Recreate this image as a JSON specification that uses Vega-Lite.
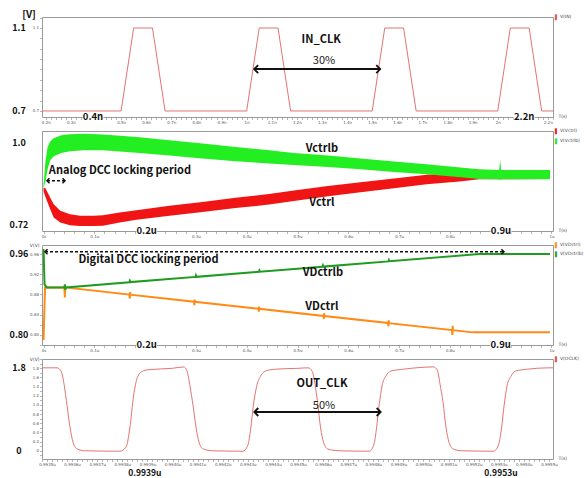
{
"$schema":"https://vega.github.io/schema/vega-lite/v6.json",
"background":"white",
"padding":{"left":9,"top":9,"right":0,"bottom":0},
"spacing":14,
"bounds":"flush",
"datasets":{
"in":[{"t":0.185,"v":0.7},{"t":0.5,"v":0.7},{"t":0.55,"v":1.1},{"t":0.625,"v":1.1},{"t":0.675,"v":0.7},{"t":1.0,"v":0.7},{"t":1.05,"v":1.1},{"t":1.125,"v":1.1},{"t":1.175,"v":0.7},{"t":1.5,"v":0.7},{"t":1.55,"v":1.1},{"t":1.625,"v":1.1},{"t":1.675,"v":0.7},{"t":2.0,"v":0.7},{"t":2.05,"v":1.1},{"t":2.125,"v":1.1},{"t":2.175,"v":0.7},{"t":2.22,"v":0.7}],
"arrow1":[{"t":1.030,"v":0.902,"end":"start"},{"t":1.532,"v":0.902,"end":"end"}],
"notes1":[
{"t":1.297,"v":1.042,"label":"IN_CLK","kind":"title"},
{"t":1.308,"v":0.941,"label":"30%","kind":"pct"},
{"t":0.185,"v":1.1,"label":"1.1","kind":"ylab"},
{"t":0.185,"v":0.7,"label":"0.7","kind":"ylab"},
{"t":0.185,"v":1.153,"label":"[V]","kind":"unit"},
{"t":0.388,"v":0.671,"label":"0.4n","kind":"xlab"},
{"t":2.105,"v":0.671,"label":"2.2n","kind":"xlab"},
{"t":2.22,"v":1.153,"label":"V(IN)","kind":"leg","s":"IN"}],
"vctrl":[
{"t":0.000,"lo":0.835,"hi":0.848},{"t":0.004,"lo":0.815,"hi":0.845},{"t":0.013,"lo":0.775,"hi":0.814},{"t":0.020,"lo":0.746,"hi":0.791},{"t":0.033,"lo":0.729,"hi":0.769},{"t":0.052,"lo":0.720,"hi":0.757},{"t":0.072,"lo":0.717,"hi":0.752},{"t":0.098,"lo":0.717,"hi":0.752},{"t":0.117,"lo":0.718,"hi":0.754},{"t":0.150,"lo":0.729,"hi":0.763},{"t":0.183,"lo":0.738,"hi":0.771},{"t":0.248,"lo":0.752,"hi":0.786},{"t":0.313,"lo":0.765,"hi":0.799},{"t":0.378,"lo":0.778,"hi":0.813},{"t":0.444,"lo":0.790,"hi":0.826},{"t":0.493,"lo":0.802,"hi":0.838},{"t":0.560,"lo":0.818,"hi":0.853},{"t":0.624,"lo":0.832,"hi":0.866},{"t":0.690,"lo":0.846,"hi":0.879},{"t":0.754,"lo":0.859,"hi":0.892},{"t":0.819,"lo":0.869,"hi":0.900},{"t":0.858,"lo":0.876,"hi":0.905},{"t":0.997,"lo":0.877,"hi":0.905}],
"vctrlb":[
{"t":0.000,"lo":0.845,"hi":0.858},{"t":0.004,"lo":0.870,"hi":0.940},{"t":0.008,"lo":0.910,"hi":0.985},{"t":0.013,"lo":0.940,"hi":1.005},{"t":0.020,"lo":0.955,"hi":1.016},{"t":0.035,"lo":0.966,"hi":1.026},{"t":0.052,"lo":0.972,"hi":1.030},{"t":0.080,"lo":0.975,"hi":1.031},{"t":0.117,"lo":0.975,"hi":1.029},{"t":0.183,"lo":0.967,"hi":1.020},{"t":0.248,"lo":0.957,"hi":1.009},{"t":0.313,"lo":0.947,"hi":0.998},{"t":0.378,"lo":0.938,"hi":0.986},{"t":0.444,"lo":0.930,"hi":0.975},{"t":0.493,"lo":0.925,"hi":0.966},{"t":0.560,"lo":0.918,"hi":0.957},{"t":0.624,"lo":0.910,"hi":0.947},{"t":0.690,"lo":0.901,"hi":0.937},{"t":0.754,"lo":0.893,"hi":0.927},{"t":0.810,"lo":0.885,"hi":0.918},{"t":0.858,"lo":0.877,"hi":0.910},{"t":0.897,"lo":0.876,"hi":0.908},{"t":0.899,"lo":0.872,"hi":0.942},{"t":0.901,"lo":0.876,"hi":0.908},{"t":0.997,"lo":0.876,"hi":0.908}],
"arrow2":[{"t":0.0068,"v":0.8712,"end":"start"},{"t":0.0423,"v":0.8712,"end":"end"}],
"notes2":[
{"t":0.1505,"v":0.903,"label":"Analog DCC locking period","kind":"title"},
{"t":0.548,"v":0.980,"label":"Vctrlb","kind":"title"},
{"t":0.548,"v":0.797,"label":"Vctrl","kind":"title"},
{"t":-0.003,"v":1.0,"label":"1.0","kind":"ylab"},
{"t":-0.003,"v":0.72,"label":"0.72","kind":"ylab"},
{"t":0.203,"v":0.700,"label":"0.2u","kind":"xlab"},
{"t":0.9006,"v":0.700,"label":"0.9u","kind":"xlab"},
{"t":1.003,"v":1.0407,"label":"V(Vctrl)","kind":"leg","s":"Vctrl"},
{"t":1.003,"v":1.0068,"label":"V(Vctrlb)","kind":"leg","s":"Vctrlb"}],
"vdctrl":[
{"t":0,"v":0.790},{"t":0.003,"v":0.894},{"t":0.041,"v":0.894},{"t":0.042,"v":0.874},{"t":0.0425,"v":0.897},{"t":0.043,"v":0.894},
{"t":0.169,"v":0.8799},{"t":0.170,"v":0.872},{"t":0.1705,"v":0.885},{"t":0.171,"v":0.8797},
{"t":0.296,"v":0.8658},{"t":0.297,"v":0.859},{"t":0.2975,"v":0.870},{"t":0.298,"v":0.8656},
{"t":0.423,"v":0.8518},{"t":0.424,"v":0.846},{"t":0.4245,"v":0.856},{"t":0.425,"v":0.8516},
{"t":0.551,"v":0.8376},{"t":0.552,"v":0.832},{"t":0.5525,"v":0.843},{"t":0.553,"v":0.8374},
{"t":0.678,"v":0.8235},{"t":0.679,"v":0.817},{"t":0.6795,"v":0.829},{"t":0.680,"v":0.8233},
{"t":0.804,"v":0.8096},{"t":0.805,"v":0.800},{"t":0.8055,"v":0.818},{"t":0.806,"v":0.8094},
{"t":0.845,"v":0.805},{"t":0.997,"v":0.805}],
"vdctrlb":[
{"t":0,"v":0.970},{"t":0.002,"v":0.900},{"t":0.004,"v":0.897},{"t":0.006,"v":0.894},{"t":0.041,"v":0.894},{"t":0.042,"v":0.900},{"t":0.043,"v":0.889},{"t":0.044,"v":0.894},
{"t":0.169,"v":0.9043},{"t":0.170,"v":0.9070},{"t":0.171,"v":0.9045},
{"t":0.299,"v":0.9148},{"t":0.300,"v":0.9178},{"t":0.301,"v":0.9150},
{"t":0.424,"v":0.9249},{"t":0.425,"v":0.9275},{"t":0.426,"v":0.9251},
{"t":0.549,"v":0.9350},{"t":0.550,"v":0.9378},{"t":0.551,"v":0.9352},
{"t":0.679,"v":0.9455},{"t":0.680,"v":0.9483},{"t":0.681,"v":0.9457},
{"t":0.858,"v":0.960},{"t":0.997,"v":0.960}],
"arrow3":[{"t":0.0029,"v":0.9647,"end":"start"},{"t":0.9064,"v":0.9647,"end":"end"}],
"notes3":[
{"t":0.2066,"v":0.9489,"label":"Digital DCC locking period","kind":"title"},
{"t":0.550,"v":0.9226,"label":"VDctrlb","kind":"title"},
{"t":0.548,"v":0.8552,"label":"VDctrl","kind":"title"},
{"t":-0.003,"v":0.96,"label":"0.96","kind":"ylab"},
{"t":-0.003,"v":0.80,"label":"0.80","kind":"ylab"},
{"t":0.203,"v":0.78,"label":"0.2u","kind":"xlab"},
{"t":0.900,"v":0.78,"label":"0.9u","kind":"xlab"},
{"t":1.003,"v":0.978,"label":"V(VDctrl)","kind":"leg","s":"VDctrl"},
{"t":1.003,"v":0.960,"label":"V(VDctrlb)","kind":"leg","s":"VDctrlb"}],
"out":[
{"t":993.480,"v":1.81},{"t":993.540,"v":1.81},{"t":993.556,"v":1.74},{"t":993.568,"v":1.45},{"t":993.580,"v":0.98},{"t":993.592,"v":0.50},{"t":993.604,"v":0.18},{"t":993.620,"v":0.04},{"t":993.650,"v":0.00},{"t":993.790,"v":-0.01},
{"t":993.815,"v":0.08},{"t":993.830,"v":0.50},{"t":993.845,"v":1.20},{"t":993.860,"v":1.60},{"t":993.878,"v":1.73},{"t":993.905,"v":1.77},{"t":994.000,"v":1.80},{"t":994.045,"v":1.83},
{"t":994.058,"v":1.74},{"t":994.070,"v":1.40},{"t":994.082,"v":0.98},{"t":994.094,"v":0.50},{"t":994.106,"v":0.18},{"t":994.122,"v":0.04},{"t":994.160,"v":0.00},{"t":994.280,"v":-0.01},
{"t":994.300,"v":0.12},{"t":994.312,"v":0.50},{"t":994.322,"v":0.98},{"t":994.335,"v":1.40},{"t":994.350,"v":1.62},{"t":994.370,"v":1.74},{"t":994.410,"v":1.78},{"t":994.500,"v":1.80},{"t":994.540,"v":1.81},
{"t":994.556,"v":1.74},{"t":994.568,"v":1.45},{"t":994.578,"v":1.05},{"t":994.590,"v":0.50},{"t":994.602,"v":0.18},{"t":994.618,"v":0.04},{"t":994.660,"v":0.00},{"t":994.785,"v":-0.01},
{"t":994.803,"v":0.15},{"t":994.813,"v":0.50},{"t":994.823,"v":0.98},{"t":994.835,"v":1.42},{"t":994.850,"v":1.63},{"t":994.870,"v":1.74},{"t":994.920,"v":1.78},{"t":995.040,"v":1.83},
{"t":995.055,"v":1.76},{"t":995.066,"v":1.45},{"t":995.078,"v":1.05},{"t":995.090,"v":0.50},{"t":995.102,"v":0.18},{"t":995.118,"v":0.04},{"t":995.150,"v":0.00},{"t":995.280,"v":-0.01},
{"t":995.300,"v":0.15},{"t":995.311,"v":0.50},{"t":995.321,"v":0.98},{"t":995.333,"v":1.42},{"t":995.348,"v":1.62},{"t":995.367,"v":1.74},{"t":995.413,"v":1.78},{"t":995.500,"v":1.81},{"t":995.516,"v":1.81}],
"arrow4":[{"t":994.3258,"v":0.846,"end":"start"},{"t":994.8294,"v":0.846,"end":"end"}],
"notes4":[
{"t":994.5955,"v":1.451,"label":"OUT_CLK","kind":"title"},
{"t":994.6035,"v":0.977,"label":"50%","kind":"pct"},
{"t":993.48,"v":1.8,"label":"1.8","kind":"ylab"},
{"t":993.48,"v":0,"label":"0","kind":"ylab"},
{"t":993.890,"v":-0.18,"label":"0.9939u","kind":"xlab2"},
{"t":995.3087,"v":-0.18,"label":"0.9953u","kind":"xlab2"},
{"t":995.516,"v":2.003,"label":"V(OCLK)","kind":"leg","s":"OCLK"}]
},
"vconcat":[
{
"width":511,"height":100,
"encoding":{
"x":{"field":"t","type":"quantitative","scale":{"domain":[0.185,2.22],"nice":false,"zero":false},"axis":{"title":"T(s)","tickCount":100,"labelExpr":"(abs(datum.value*10-round(datum.value*10))<0.001 && abs(datum.value-0.4)>0.001 && abs(datum.value-2.1)>0.001) ? format(datum.value,'.1~f')+'n' : ''"}},
"y":{"field":"v","type":"quantitative","scale":{"domain":[0.671,1.153],"nice":false,"zero":false},"axis":{"title":null,"tickCount":10,"labelExpr":"(abs(datum.value-0.7)<0.001 || abs(datum.value-1.1)<0.001) ? format(datum.value,'.1f') : ''"}}
},
"layer":[
{"data":{"name":"in"},"mark":{"type":"line","color":"#e57373","strokeWidth":1}},
{"data":{"name":"arrow1"},"mark":{"type":"line","color":"#111111","strokeWidth":2}},
{"data":{"name":"arrow1"},"mark":{"type":"point","filled":false,"color":"#111111","strokeWidth":1.8,"size":64,"opacity":1},"encoding":{"shape":{"field":"end","type":"nominal","scale":{"domain":["start","end"],"range":["M1,-1L0,0L1,1","M-1,-1L0,0L-1,1"]},"legend":null}}},
{"data":{"name":"notes1"},"transform":[{"filter":"datum.kind==='title'"}],"mark":{"type":"text","fontWeight":"bold","fontSize":11,"color":"#111111","align":"center","baseline":"middle"},"encoding":{"text":{"field":"label"}}},
{"data":{"name":"notes1"},"transform":[{"filter":"datum.kind==='pct'"}],"mark":{"type":"text","fontSize":11,"color":"#222222","align":"center","baseline":"middle"},"encoding":{"text":{"field":"label"}}},
{"data":{"name":"notes1"},"transform":[{"filter":"datum.kind==='ylab'"}],"mark":{"type":"text","fontWeight":"bold","fontSize":9,"color":"#111111","align":"center","baseline":"middle","dx":-23},"encoding":{"text":{"field":"label"}}},
{"data":{"name":"notes1"},"transform":[{"filter":"datum.kind==='unit'"}],"mark":{"type":"text","fontWeight":"bold","fontSize":10,"color":"#111111","align":"center","baseline":"middle","dx":-13,"dy":-2},"encoding":{"text":{"field":"label"}}},
{"data":{"name":"notes1"},"transform":[{"filter":"datum.kind==='xlab'"}],"mark":{"type":"point","filled":true,"color":"white","opacity":1,"size":400,"shape":"M-1.05,-0.5H1.05V0.5H-1.05Z"}},
{"data":{"name":"notes1"},"transform":[{"filter":"datum.kind==='xlab'"}],"mark":{"type":"text","fontWeight":"bold","fontSize":9.5,"color":"#111111","align":"center","baseline":"middle"},"encoding":{"text":{"field":"label"}}},
{"data":{"name":"notes1"},"transform":[{"filter":"datum.kind==='leg'"}],"mark":{"type":"text","fontSize":5,"font":"DejaVu Sans","align":"left","baseline":"middle","dx":2},"encoding":{"text":{"value":"▌"},"color":{"field":"s","type":"nominal","scale":{"domain":["IN","Vctrl","Vctrlb","VDctrl","VDctrlb","OCLK"],"range":["#e05050","#ee1111","#22e022","#ff8c1a","#1f9e1f","#e05050"]},"legend":null}}},
{"data":{"name":"notes1"},"transform":[{"filter":"datum.kind==='leg'"}],"mark":{"type":"text","fontSize":4.5,"font":"DejaVu Sans","color":"#444444","align":"left","baseline":"middle","dx":7},"encoding":{"text":{"field":"label"}}}
]
},
{
"width":511,"height":100,
"encoding":{
"x":{"field":"t","type":"quantitative","scale":{"domain":[-0.003,1.003],"nice":false,"zero":false},"axis":{"title":"T(s)","tickCount":50,"labelExpr":"(abs(datum.value*10-round(datum.value*10))<0.001 && abs(datum.value-0.2)>0.001 && abs(datum.value-0.9)>0.001) ? (abs(datum.value)<0.001 ? '0s' : format(datum.value,'.1~f')+'u') : ''"}},
"y":{"field":"v","type":"quantitative","scale":{"domain":[0.7,1.0407],"nice":false,"zero":false},"axis":{"title":"V(V)","tickCount":17,"labelExpr":"round(datum.value*100)%4==0 ? (datum.value>0.999 ? '1.0' : format(datum.value,'.2f')) : ''"}}
},
"layer":[
{"data":{"name":"vctrl"},"mark":{"type":"area","color":"#f01414","opacity":1},"encoding":{"y":{"field":"lo","type":"quantitative","scale":{"domain":[0.7,1.0407],"nice":false,"zero":false},"axis":null},"y2":{"field":"hi"}}},
{"data":{"name":"vctrlb"},"mark":{"type":"area","color":"#22ee22","opacity":1},"encoding":{"y":{"field":"lo","type":"quantitative","scale":{"domain":[0.7,1.0407],"nice":false,"zero":false},"axis":null},"y2":{"field":"hi"}}},
{"data":{"name":"arrow2"},"mark":{"type":"line","color":"#111111","strokeWidth":1.5,"strokeDash":[3,2]}},
{"data":{"name":"arrow2"},"mark":{"type":"point","filled":false,"color":"#111111","strokeWidth":1.5,"size":25,"opacity":1},"encoding":{"shape":{"field":"end","type":"nominal","scale":{"domain":["start","end"],"range":["M1,-1L0,0L1,1","M-1,-1L0,0L-1,1"]},"legend":null}}},
{"data":{"name":"notes2"},"transform":[{"filter":"datum.kind==='title'"}],"mark":{"type":"text","fontWeight":"bold","fontSize":11,"color":"#111111","align":"center","baseline":"middle"},"encoding":{"text":{"field":"label"}}},
{"data":{"name":"notes2"},"transform":[{"filter":"datum.kind==='ylab'"}],"mark":{"type":"text","fontWeight":"bold","fontSize":9,"color":"#111111","align":"center","baseline":"middle","dx":-23},"encoding":{"text":{"field":"label"}}},
{"data":{"name":"notes2"},"transform":[{"filter":"datum.kind==='xlab'"}],"mark":{"type":"point","filled":true,"color":"white","opacity":1,"size":400,"shape":"M-1.05,-0.5H1.05V0.5H-1.05Z"}},
{"data":{"name":"notes2"},"transform":[{"filter":"datum.kind==='xlab'"}],"mark":{"type":"text","fontWeight":"bold","fontSize":9.5,"color":"#111111","align":"center","baseline":"middle"},"encoding":{"text":{"field":"label"}}},
{"data":{"name":"notes2"},"transform":[{"filter":"datum.kind==='leg'"}],"mark":{"type":"text","fontSize":5,"font":"DejaVu Sans","align":"left","baseline":"middle","dx":2},"encoding":{"text":{"value":"▌"},"color":{"field":"s","type":"nominal","scale":{"domain":["IN","Vctrl","Vctrlb","VDctrl","VDctrlb","OCLK"],"range":["#e05050","#ee1111","#22e022","#ff8c1a","#1f9e1f","#e05050"]},"legend":null}}},
{"data":{"name":"notes2"},"transform":[{"filter":"datum.kind==='leg'"}],"mark":{"type":"text","fontSize":4.5,"font":"DejaVu Sans","color":"#444444","align":"left","baseline":"middle","dx":7},"encoding":{"text":{"field":"label"}}}
]
},
{
"width":511,"height":100,
"encoding":{
"x":{"field":"t","type":"quantitative","scale":{"domain":[-0.003,1.003],"nice":false,"zero":false},"axis":{"title":"T(s)","tickCount":50,"labelExpr":"(abs(datum.value*10-round(datum.value*10))<0.001 && abs(datum.value-0.2)>0.001 && abs(datum.value-0.9)>0.001) ? (abs(datum.value)<0.001 ? '0s' : format(datum.value,'.1~f')+'u') : ''"}},
"y":{"field":"v","type":"quantitative","scale":{"domain":[0.78,0.978],"nice":false,"zero":false},"axis":{"title":"V(V)","tickCount":10,"labelExpr":"(round(datum.value*100)%4==0 && datum.value>0.79) ? format(datum.value,'.2f') : ''"}}
},
"layer":[
{"data":{"name":"vdctrl"},"mark":{"type":"line","color":"#ff8a15","strokeWidth":2}},
{"data":{"name":"vdctrlb"},"mark":{"type":"line","color":"#1f9c1f","strokeWidth":2}},
{"data":{"name":"arrow3"},"mark":{"type":"line","color":"#111111","strokeWidth":1.5,"strokeDash":[3,2]}},
{"data":{"name":"arrow3"},"mark":{"type":"point","filled":false,"color":"#111111","strokeWidth":1.5,"size":25,"opacity":1},"encoding":{"shape":{"field":"end","type":"nominal","scale":{"domain":["start","end"],"range":["M1,-1L0,0L1,1","M-1,-1L0,0L-1,1"]},"legend":null}}},
{"data":{"name":"notes3"},"transform":[{"filter":"datum.kind==='title'"}],"mark":{"type":"text","fontWeight":"bold","fontSize":11,"color":"#111111","align":"center","baseline":"middle"},"encoding":{"text":{"field":"label"}}},
{"data":{"name":"notes3"},"transform":[{"filter":"datum.kind==='ylab'"}],"mark":{"type":"text","fontWeight":"bold","fontSize":9,"color":"#111111","align":"center","baseline":"middle","dx":-23},"encoding":{"text":{"field":"label"}}},
{"data":{"name":"notes3"},"transform":[{"filter":"datum.kind==='xlab'"}],"mark":{"type":"point","filled":true,"color":"white","opacity":1,"size":400,"shape":"M-1.05,-0.5H1.05V0.5H-1.05Z"}},
{"data":{"name":"notes3"},"transform":[{"filter":"datum.kind==='xlab'"}],"mark":{"type":"text","fontWeight":"bold","fontSize":9.5,"color":"#111111","align":"center","baseline":"middle"},"encoding":{"text":{"field":"label"}}},
{"data":{"name":"notes3"},"transform":[{"filter":"datum.kind==='leg'"}],"mark":{"type":"text","fontSize":5,"font":"DejaVu Sans","align":"left","baseline":"middle","dx":2},"encoding":{"text":{"value":"▌"},"color":{"field":"s","type":"nominal","scale":{"domain":["IN","Vctrl","Vctrlb","VDctrl","VDctrlb","OCLK"],"range":["#e05050","#ee1111","#22e022","#ff8c1a","#1f9e1f","#e05050"]},"legend":null}}},
{"data":{"name":"notes3"},"transform":[{"filter":"datum.kind==='leg'"}],"mark":{"type":"text","fontSize":4.5,"font":"DejaVu Sans","color":"#444444","align":"left","baseline":"middle","dx":7},"encoding":{"text":{"field":"label"}}}
]
},
{
"width":511,"height":100,
"encoding":{
"x":{"field":"t","type":"quantitative","scale":{"domain":[993.48,995.516],"nice":false,"zero":false},"axis":{"title":"T(s)","tickCount":100,"labelExpr":"abs(datum.value*10-round(datum.value*10))<0.001 ? format(datum.value/1000,'.4f')+'u' : ''"}},
"y":{"field":"v","type":"quantitative","scale":{"domain":[-0.18,2.003],"nice":false,"zero":false},"axis":{"title":"V(V)","tickCount":22,"labelExpr":"(round(datum.value*10)%2==0 && datum.value<1.9 && datum.value>-0.05) ? (abs(datum.value)<0.01 ? '0' : format(datum.value,'.1f')) : ''"}}
},
"layer":[
{"data":{"name":"out"},"mark":{"type":"line","color":"#e57373","strokeWidth":1,"interpolate":"monotone"}},
{"data":{"name":"arrow4"},"mark":{"type":"line","color":"#111111","strokeWidth":2}},
{"data":{"name":"arrow4"},"mark":{"type":"point","filled":false,"color":"#111111","strokeWidth":1.8,"size":64,"opacity":1},"encoding":{"shape":{"field":"end","type":"nominal","scale":{"domain":["start","end"],"range":["M1,-1L0,0L1,1","M-1,-1L0,0L-1,1"]},"legend":null}}},
{"data":{"name":"notes4"},"transform":[{"filter":"datum.kind==='title'"}],"mark":{"type":"text","fontWeight":"bold","fontSize":11,"color":"#111111","align":"center","baseline":"middle"},"encoding":{"text":{"field":"label"}}},
{"data":{"name":"notes4"},"transform":[{"filter":"datum.kind==='pct'"}],"mark":{"type":"text","fontSize":11,"color":"#222222","align":"center","baseline":"middle"},"encoding":{"text":{"field":"label"}}},
{"data":{"name":"notes4"},"transform":[{"filter":"datum.kind==='ylab'"}],"mark":{"type":"text","fontWeight":"bold","fontSize":9,"color":"#111111","align":"center","baseline":"middle","dx":-23},"encoding":{"text":{"field":"label"}}},
{"data":{"name":"notes4"},"transform":[{"filter":"datum.kind==='xlab2'"}],"mark":{"type":"text","fontWeight":"bold","fontSize":8.5,"color":"#111111","align":"center","baseline":"middle","dy":13.5},"encoding":{"text":{"field":"label"}}},
{"data":{"name":"notes4"},"transform":[{"filter":"datum.kind==='leg'"}],"mark":{"type":"text","fontSize":5,"font":"DejaVu Sans","align":"left","baseline":"middle","dx":2},"encoding":{"text":{"value":"▌"},"color":{"field":"s","type":"nominal","scale":{"domain":["IN","Vctrl","Vctrlb","VDctrl","VDctrlb","OCLK"],"range":["#e05050","#ee1111","#22e022","#ff8c1a","#1f9e1f","#e05050"]},"legend":null}}},
{"data":{"name":"notes4"},"transform":[{"filter":"datum.kind==='leg'"}],"mark":{"type":"text","fontSize":4.5,"font":"DejaVu Sans","color":"#444444","align":"left","baseline":"middle","dx":7},"encoding":{"text":{"field":"label"}}}
]
}
],
"config":{
"font":"Noto Sans CJK KR",
"view":{"stroke":"#9a9a9a","strokeWidth":1},
"axis":{"domain":false,"grid":false,"labelFontSize":4,"labelColor":"#555555","labelFont":"DejaVu Sans","tickColor":"#888888","tickSize":2.5,"tickWidth":0.6,"labelPadding":1,"labelOverlap":false,"labelFlush":false,"titleFont":"DejaVu Sans","titleFontSize":4.5,"titleFontWeight":"normal","titleColor":"#444444"},
"axisX":{"titleX":516,"titleY":-1,"titleAlign":"left","titleBaseline":"middle","titleAngle":0},
"axisY":{"titleX":-3,"titleY":0,"titleAlign":"right","titleBaseline":"middle","titleAngle":0}
}
}
